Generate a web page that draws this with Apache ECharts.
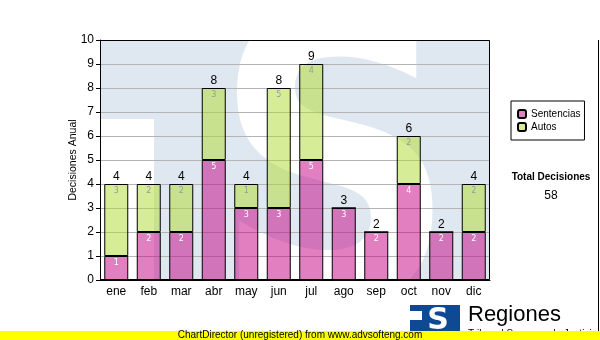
<!DOCTYPE html>
<html><head><meta charset="utf-8">
<script src="https://cdn.jsdelivr.net/npm/echarts@6/dist/echarts.min.js"></script>
<style>html,body{margin:0;padding:0;background:#fff}#c{width:600px;height:340px}</style>
</head><body><div id="c"></div>
<script>
const categories = ['ene','feb','mar','abr','may','jun','jul','ago','sep','oct','nov','dic'];
const sentencias = [1,2,2,5,3,3,5,3,2,4,2,2];
const autos = [3,2,2,3,1,5,4,0,0,2,0,2];
const totals = [4,4,4,8,4,8,9,3,2,6,2,4];
const yTicks = [0,1,2,3,4,5,6,7,8,9,10];
const totalDecisiones = 58;

const chart = echarts.init(document.getElementById('c'), null, {renderer:'canvas'});
const FONT = 'Liberation Sans';
chart.setOption({
  animation:false,
  backgroundColor:'#fff',
  grid:{left:100, top:40, width:390, height:240, containLabel:false},
  xAxis:{type:'category', data:categories,
    axisLine:{lineStyle:{color:'#000', width:1}},
    axisTick:{alignWithLabel:true, length:4, lineStyle:{color:'#000'}},
    axisLabel:{color:'#000', fontFamily:FONT, fontSize:12, margin:6}},
  yAxis:{type:'value', min:yTicks[0], max:yTicks[yTicks.length-1], interval:1,
    name:'Decisiones Anual', nameLocation:'middle', nameGap:21, nameMoveOverlap:false,
    nameTextStyle:{color:'#000', fontFamily:FONT, fontSize:10.5},
    axisLine:{show:true, lineStyle:{color:'#000'}},
    axisTick:{show:true, length:4, lineStyle:{color:'#000'}},
    axisLabel:{color:'#000', fontFamily:FONT, fontSize:12, margin:6},
    splitLine:{lineStyle:{color:'#b4b4b4', width:1}}},
  legend:{orient:'vertical', left:511, top:101, data:['Sentencias','Autos'],
    itemWidth:8, itemHeight:8, itemGap:3, itemTextGap:3,
    padding:[8,4,8,6], borderColor:'#000', borderWidth:1, backgroundColor:'#fff',
    textStyle:{fontFamily:FONT, fontSize:10, color:'#000'}},
  series:[
    {name:'Sentencias', type:'bar', stack:'a', data:sentencias, barWidth:24,
      itemStyle:{color:'rgba(195,0,130,0.5)', borderColor:'#000', borderWidth:1},
      label:{show:true, position:'insideTop', distance:3, color:'#fff', fontFamily:'DejaVu Sans', fontSize:8,
        formatter:p=>p.value?String(p.value):''}},
    {name:'Autos', type:'bar', stack:'a', data:autos, barWidth:24,
      itemStyle:{color:'rgba(175,218,45,0.5)', borderColor:'#000', borderWidth:1},
      label:{show:true, position:'insideTop', distance:3, color:'#999', fontFamily:'DejaVu Sans', fontSize:8,
        formatter:p=>p.value?String(p.value):''}},
    {name:'Total', type:'bar', stack:'a', data:totals.map(()=>0), barWidth:24,
      itemStyle:{color:'transparent', borderWidth:0},
      label:{show:true, position:'top', distance:1, color:'#000', fontFamily:FONT, fontSize:12,
        formatter:p=>String(totals[p.dataIndex])}}
  ],
  graphic:[
    {type:'rect', z:-20, silent:true, shape:{x:100,y:40,width:390,height:240}, style:{fill:'#dfe8f1'}},
    {type:'text', z:-19, silent:true, x:335, y:195, scaleX:0.85,
      style:{text:'S', fill:'#fff', font:'bold 400px "DejaVu Sans"', textAlign:'center', textVerticalAlign:'middle'}},
    {type:'rect', z:-19, silent:true, shape:{x:100,y:119,width:54,height:161}, style:{fill:'#fff'}},
    {type:'rect', z:-25, silent:true, shape:{x:0,y:282,width:600,height:58}, style:{fill:'#fff'}},
    {type:'rect', z:100, silent:true, shape:{x:100.5,y:40.5,width:389,height:239}, style:{fill:null, stroke:'#000', lineWidth:1}},
    {type:'text', z:100, silent:true, style:{x:551, y:177, text:'Total Decisiones', font:'bold 10px "Liberation Sans"', fill:'#000', textAlign:'center', textVerticalAlign:'middle'}},
    {type:'text', z:100, silent:true, style:{x:551, y:196, text:String(totalDecisiones), font:'12px "Liberation Sans"', fill:'#000', textAlign:'center', textVerticalAlign:'middle'}},
    {type:'line', z:100, silent:true, shape:{x1:598.5,y1:40,x2:598.5,y2:331}, style:{stroke:'#000', lineWidth:1}},
    {type:'rect', z:100, silent:true, shape:{x:410,y:305,width:50,height:28}, style:{fill:'#0d4a93'}},
    {type:'rect', z:101, silent:true, shape:{x:410,y:311,width:12,height:9}, style:{fill:'#fff'}},
    {type:'text', z:101, silent:true, style:{x:438, y:321, text:'S', font:'bold 30px "DejaVu Sans"', fill:'#fff', textAlign:'center', textVerticalAlign:'middle'}},
    {type:'text', z:100, silent:true, style:{x:468, y:326, text:'Regiones', font:'22px "Liberation Sans"', fill:'#000', textAlign:'left', textVerticalAlign:'bottom'}},
    {type:'text', z:100, silent:true, style:{x:468, y:329, text:'Tribunal Supremo de Justicia', font:'10px "Liberation Sans"', fill:'#000', textAlign:'left', textVerticalAlign:'top'}},
    {type:'rect', z:110, silent:true, shape:{x:0,y:331,width:600,height:9}, style:{fill:'#ffff00'}},
    {type:'text', z:111, silent:true, style:{x:300, y:335.5, text:'ChartDirector (unregistered) from www.advsofteng.com', font:'10px "Liberation Sans"', fill:'#000', textAlign:'center', textVerticalAlign:'middle'}}
  ]
});
</script></body></html>
